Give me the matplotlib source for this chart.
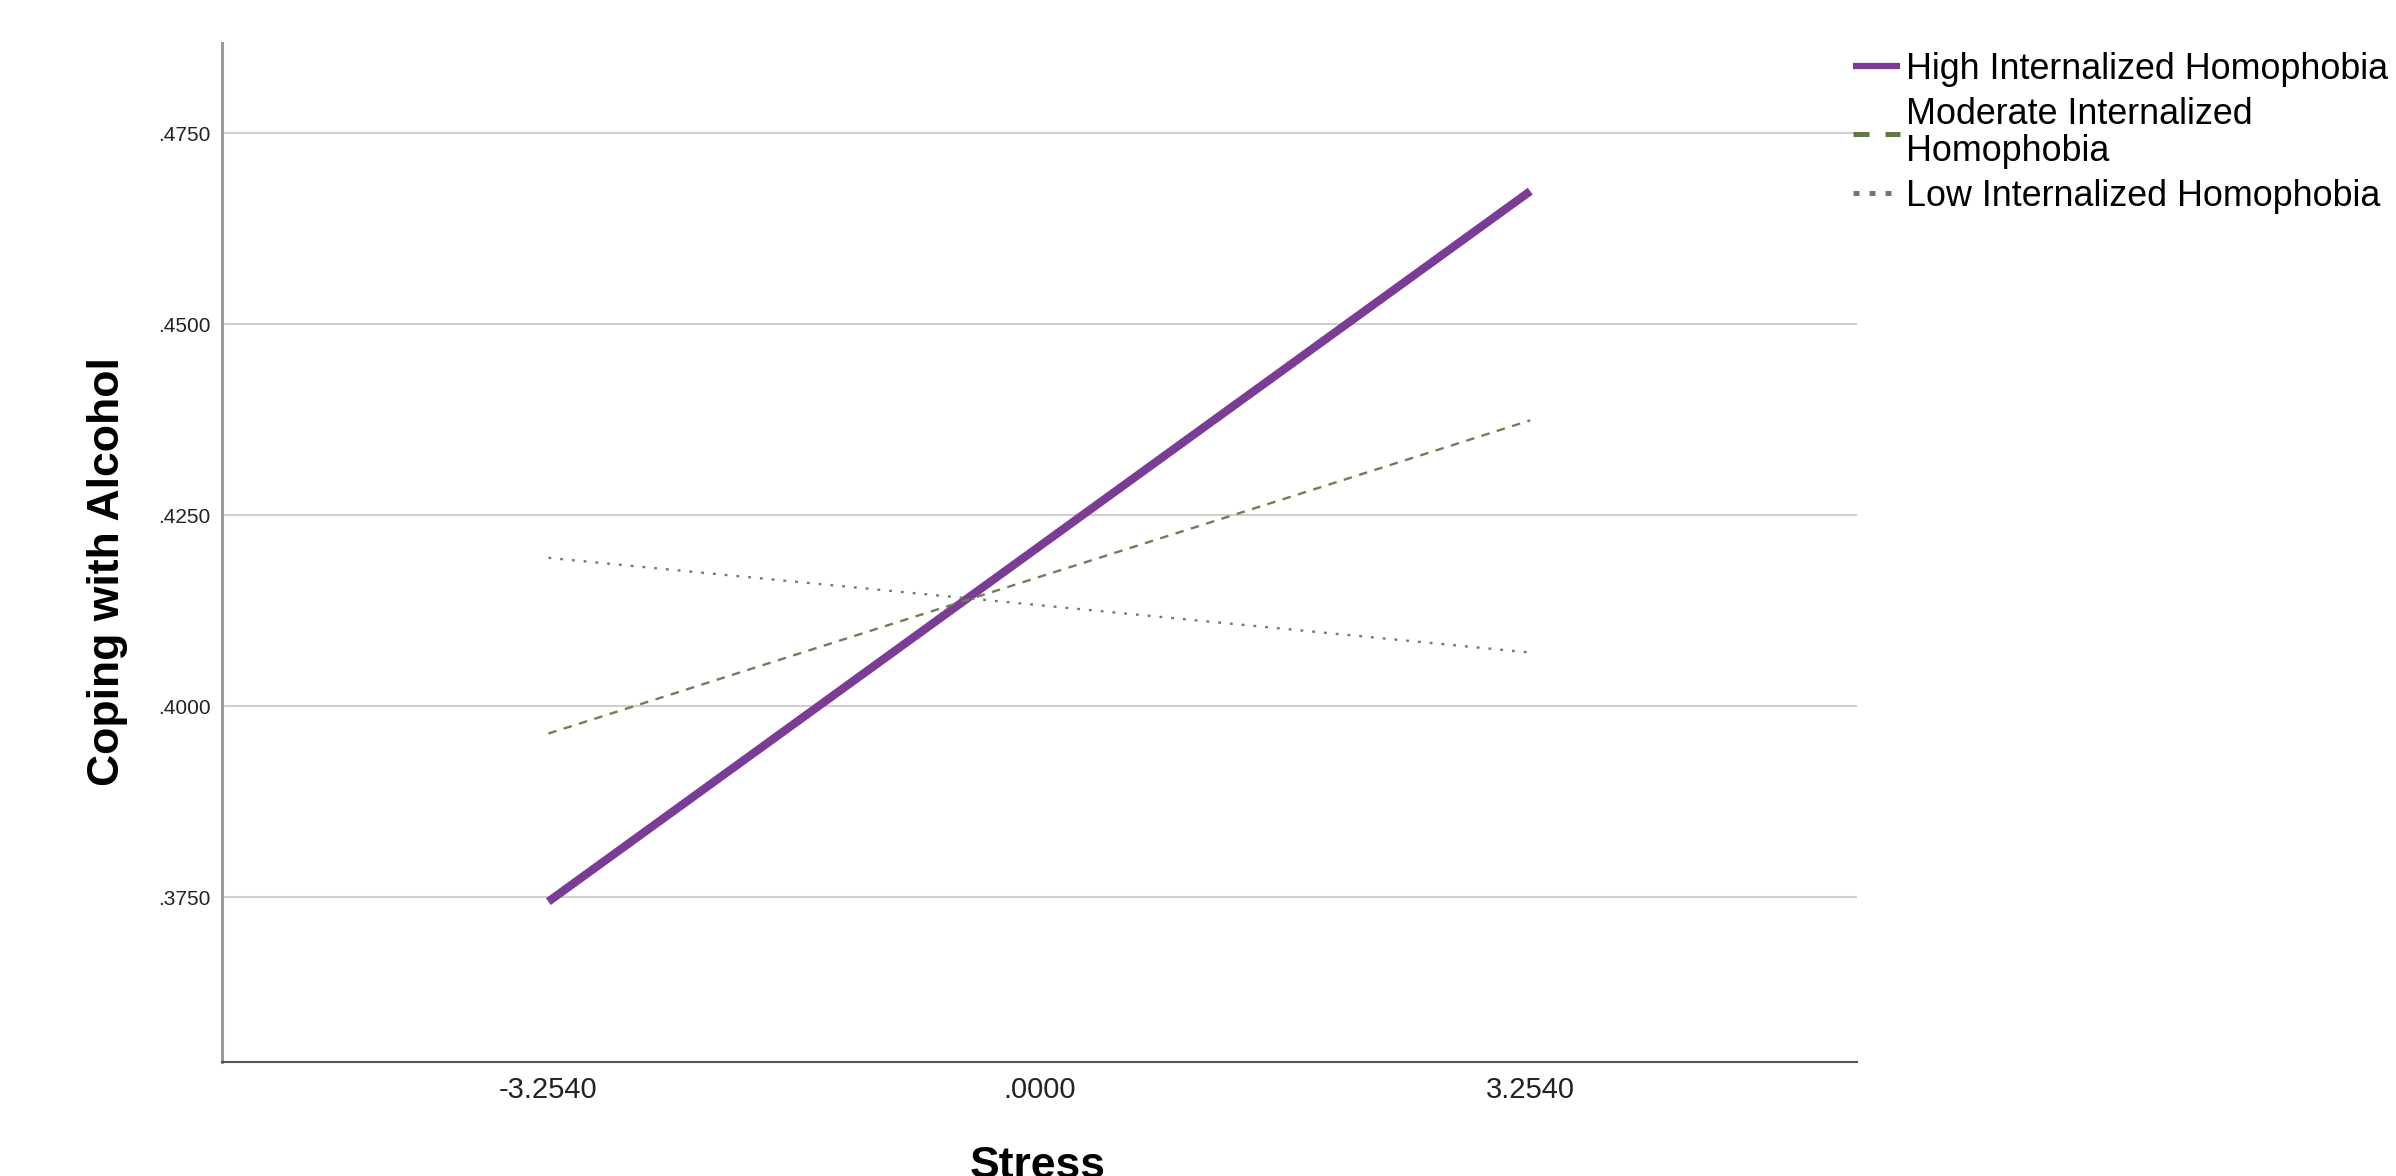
import matplotlib
matplotlib.use("Agg")
import matplotlib.pyplot as plt

plt.rcParams['font.family'] = ['Liberation Sans', 'DejaVu Sans']

# Data
stress = [-3.2540, 3.2540]
x_ticks = [-3.2540, 0.0, 3.2540]
x_tick_labels = ['-3.2540', '.0000', '3.2540']
y_ticks = [0.3750, 0.4000, 0.4250, 0.4500, 0.4750]
y_tick_labels = ['.3750', '.4000', '.4250', '.4500', '.4750']
high_ih = [0.3744, 0.4674]
moderate_ih = [0.3964, 0.4374]
low_ih = [0.4194, 0.4070]
series_labels = ['High Internalized Homophobia',
                 'Moderate Internalized\nHomophobia',
                 'Low Internalized Homophobia']

W, H = 2396, 1176
fig = plt.figure(figsize=(W / 100, H / 100), dpi=100)
ax = fig.add_axes([221.6 / W, 1 - 1062 / H, (1857 - 221.6) / W, (1062 - 43) / H])

l1, = ax.plot(stress, high_ih, color='#7B3C96', lw=6.0, solid_capstyle='butt', zorder=3)
l2, = ax.plot(stress, moderate_ih, color='#6E8054', lw=1.7, linestyle=(0, (3.6, 3.2)), zorder=3)
l3, = ax.plot(stress, low_ih, color='#727A74', lw=1.7, linestyle=(0, (1.2, 3.8)), zorder=3)

ax.set_xlim(-5.42, 5.42)
ax.set_ylim(0.3534, 0.4868)

ax.set_xticks(x_ticks)
ax.set_xticklabels(x_tick_labels, fontsize=21, color='#222222')
ax.set_yticks(y_ticks)
ax.set_yticklabels(y_tick_labels, fontsize=15, color='#222222')
ax.tick_params(axis='x', length=0, pad=10)
ax.tick_params(axis='y', length=0, pad=8)

ax.grid(axis='y', color='#CFCFCF', lw=1.5)
ax.set_axisbelow(True)

for s in ['top', 'right']:
    ax.spines[s].set_visible(False)
ax.spines['left'].set_color('#9A9A9A')
ax.spines['left'].set_linewidth(2.2)
ax.spines['bottom'].set_color('#555555')
ax.spines['bottom'].set_linewidth(1.5)

fig.text(108 / W, 1 - 572 / H, 'Coping with Alcohol', rotation=90, ha='center', va='center',
         fontsize=32, fontweight='bold')
fig.text(1038 / W, 1 - 1146 / H, 'Stress', ha='center', va='top', fontsize=32, fontweight='bold')

leg = fig.legend([l1, l2, l3], series_labels, loc='upper left',
                 bbox_to_anchor=(1853 / W, 1 - 52 / H), frameon=False, fontsize=25.8,
                 handlelength=1.32, handletextpad=0.15, borderpad=0, borderaxespad=0,
                 labelspacing=0.28)
for t in leg.get_texts():
    t.set_linespacing(1.07)
hl = leg.get_lines()
hl[0].set_linewidth(4.5)
hl[1].set_color('#5E7A45')
hl[1].set_linewidth(3.6)
hl[1].set_linestyle((0, (3.2, 3.2)))
hl[2].set_color('#6F7770')
hl[2].set_linewidth(3.6)
hl[2].set_linestyle((0, (1.2, 2.0)))

fig.savefig('out.png', dpi=100)
